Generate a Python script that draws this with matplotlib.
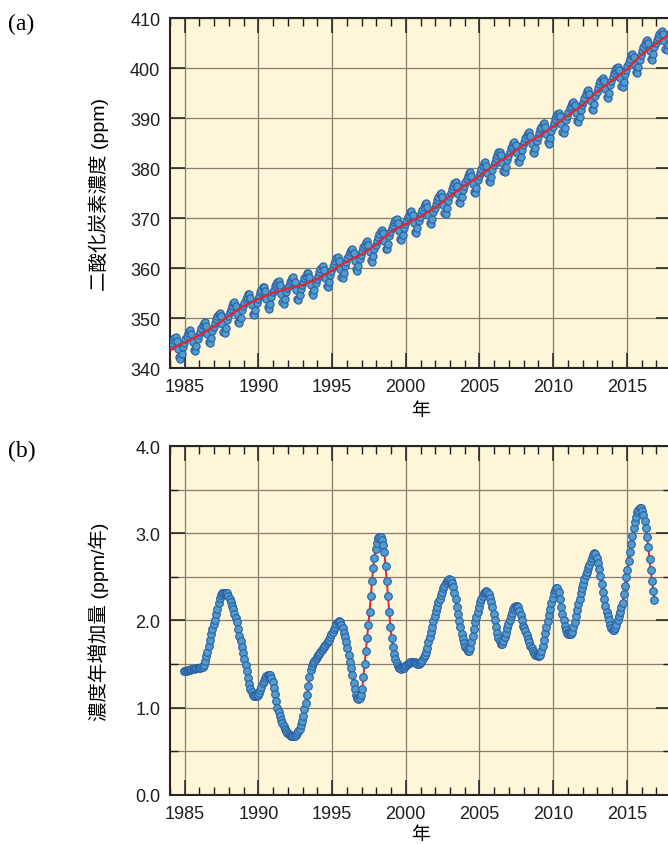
import numpy as np
import matplotlib
matplotlib.use("Agg")
import matplotlib.pyplot as plt
from matplotlib.ticker import MultipleLocator, FormatStrFormatter

plt.rcParams['font.family'] = ['Liberation Sans', 'Noto Sans CJK JP', 'DejaVu Sans']

# (a) monthly mean CO2 concentration (ppm), one row of 12 months per year
co2_first_year = 1984
co2_monthly = [
    [344.4, 345.1, 345.6, 346.1, 346.2, 345.4, 343.9, 342.2, 341.9, 342.9, 344.3, 345.1],
    [345.8, 346.5, 347.0, 347.5, 347.7, 346.9, 345.3, 343.6, 343.4, 344.4, 345.8, 346.6],
    [347.3, 348.0, 348.6, 349.1, 349.2, 348.5, 346.9, 345.3, 345.0, 346.0, 347.5, 348.3],
    [349.0, 349.8, 350.4, 350.9, 351.1, 350.4, 348.9, 347.3, 347.1, 348.1, 349.6, 350.5],
    [351.2, 351.9, 352.5, 353.1, 353.2, 352.5, 350.9, 349.3, 349.1, 350.1, 351.6, 352.4],
    [353.1, 353.8, 354.3, 354.8, 354.9, 354.1, 352.6, 350.9, 350.6, 351.6, 353.0, 353.8],
    [354.5, 355.2, 355.7, 356.2, 356.3, 355.5, 353.9, 352.2, 351.9, 352.9, 354.3, 355.2],
    [355.7, 356.4, 356.9, 357.3, 357.4, 356.6, 354.9, 353.2, 352.9, 353.8, 355.2, 356.0],
    [356.5, 357.2, 357.7, 358.1, 358.2, 357.3, 355.7, 353.9, 353.6, 354.6, 355.9, 356.7],
    [357.3, 358.0, 358.5, 359.0, 359.1, 358.3, 356.7, 355.0, 354.7, 355.7, 357.1, 357.9],
    [358.5, 359.2, 359.8, 360.3, 360.4, 359.7, 358.1, 356.5, 356.2, 357.2, 358.7, 359.5],
    [360.2, 360.9, 361.5, 362.0, 362.2, 361.4, 359.9, 358.2, 358.0, 359.0, 360.5, 361.3],
    [362.0, 362.7, 363.2, 363.7, 363.8, 363.0, 361.5, 359.8, 359.5, 360.5, 361.9, 362.7],
    [363.4, 364.2, 364.7, 365.3, 365.5, 364.7, 363.2, 361.6, 361.3, 362.4, 363.9, 364.7],
    [365.4, 366.2, 366.9, 367.5, 367.7, 367.0, 365.5, 363.9, 363.8, 364.9, 366.4, 367.3],
    [368.0, 368.7, 369.2, 369.7, 369.9, 369.1, 367.5, 365.8, 365.6, 366.6, 368.0, 368.8],
    [369.5, 370.2, 370.7, 371.2, 371.4, 370.6, 369.0, 367.3, 367.1, 368.1, 369.5, 370.3],
    [371.0, 371.7, 372.3, 372.8, 373.0, 372.2, 370.7, 369.0, 368.8, 369.8, 371.3, 372.1],
    [372.8, 373.6, 374.2, 374.8, 375.0, 374.3, 372.7, 371.1, 370.9, 372.0, 373.5, 374.4],
    [375.1, 375.9, 376.4, 377.0, 377.2, 376.5, 374.9, 373.3, 373.1, 374.2, 375.6, 376.5],
    [377.2, 377.9, 378.5, 379.1, 379.2, 378.5, 376.9, 375.3, 375.1, 376.1, 377.6, 378.4],
    [379.1, 379.9, 380.5, 381.0, 381.2, 380.5, 379.0, 377.4, 377.2, 378.2, 379.7, 380.6],
    [381.3, 382.0, 382.6, 383.2, 383.3, 382.6, 381.0, 379.4, 379.2, 380.2, 381.7, 382.5],
    [383.2, 384.0, 384.5, 385.1, 385.3, 384.6, 383.0, 381.4, 381.2, 382.3, 383.7, 384.6],
    [385.3, 386.0, 386.6, 387.1, 387.2, 386.5, 384.9, 383.3, 383.0, 384.0, 385.5, 386.3],
    [387.0, 387.8, 388.3, 388.9, 389.1, 388.3, 386.8, 385.2, 384.9, 386.0, 387.5, 388.3],
    [389.0, 389.8, 390.4, 390.9, 391.1, 390.4, 388.9, 387.3, 387.1, 388.1, 389.6, 390.5],
    [391.2, 392.0, 392.5, 393.1, 393.3, 392.6, 391.0, 389.4, 389.2, 390.3, 391.7, 392.6],
    [393.3, 394.1, 394.8, 395.4, 395.6, 394.9, 393.5, 391.9, 391.7, 392.8, 394.4, 395.3],
    [396.0, 396.8, 397.4, 397.9, 398.1, 397.4, 395.9, 394.3, 394.1, 395.1, 396.6, 397.5],
    [398.2, 399.0, 399.6, 400.1, 400.3, 399.6, 398.1, 396.5, 396.3, 397.3, 398.8, 399.7],
    [400.4, 401.3, 401.9, 402.6, 402.8, 402.2, 400.7, 399.2, 399.0, 400.2, 401.7, 402.7],
    [403.4, 404.2, 404.8, 405.4, 405.6, 405.0, 403.5, 401.9, 401.7, 402.8, 404.3, 405.0],
    [405.6, 406.3, 406.8, 407.3, 407.5, 406.9, 405.4, 403.8, 403.6, 404.7, 406.1, 407.0],
]

# deseasonalised long-term trend (ppm) on 1 January of each year
trend_years = list(range(1984, 2019))
trend_ppm = [343.7, 345.1, 346.6, 348.3, 350.5, 352.4, 353.8, 355.1, 355.9, 356.6,
             357.8, 359.5, 361.3, 362.7, 364.7, 367.3, 368.8, 370.3, 372.1, 374.4,
             376.5, 378.4, 380.6, 382.5, 384.6, 386.3, 388.3, 390.5, 392.6, 395.3,
             397.5, 399.7, 402.7, 404.9, 407.0]

# (b) annual growth rate of the trend (ppm/yr), monthly, first value is December 1984
growth_first_year = 1984
growth_first_month = 12
growth_monthly = [
    [1.42],
    [1.42, 1.42, 1.43, 1.43, 1.43, 1.44, 1.44, 1.44, 1.45, 1.45, 1.45, 1.46],
    [1.46, 1.47, 1.47, 1.49, 1.54, 1.59, 1.64, 1.71, 1.78, 1.84, 1.90, 1.96],
    [2.01, 2.07, 2.13, 2.20, 2.26, 2.29, 2.31, 2.32, 2.32, 2.32, 2.31, 2.28],
    [2.25, 2.21, 2.17, 2.13, 2.08, 2.03, 1.98, 1.90, 1.82, 1.76, 1.70, 1.63],
    [1.56, 1.49, 1.42, 1.34, 1.27, 1.22, 1.18, 1.15, 1.13, 1.13, 1.13, 1.15],
    [1.17, 1.20, 1.24, 1.28, 1.31, 1.34, 1.36, 1.38, 1.38, 1.37, 1.34, 1.29],
    [1.23, 1.16, 1.08, 1.00, 0.95, 0.90, 0.86, 0.82, 0.79, 0.76, 0.73, 0.71],
    [0.70, 0.69, 0.68, 0.68, 0.68, 0.68, 0.69, 0.71, 0.73, 0.76, 0.80, 0.85],
    [0.91, 0.98, 1.06, 1.15, 1.25, 1.35, 1.43, 1.48, 1.51, 1.54, 1.56, 1.58],
    [1.60, 1.62, 1.64, 1.66, 1.68, 1.70, 1.72, 1.74, 1.76, 1.78, 1.81, 1.84],
    [1.87, 1.90, 1.93, 1.96, 1.98, 1.99, 1.98, 1.95, 1.91, 1.86, 1.81, 1.75],
    [1.68, 1.61, 1.53, 1.46, 1.37, 1.28, 1.21, 1.15, 1.11, 1.10, 1.11, 1.15],
    [1.22, 1.35, 1.50, 1.65, 1.80, 1.95, 2.10, 2.28, 2.45, 2.60, 2.72, 2.82],
    [2.89, 2.94, 2.96, 2.96, 2.92, 2.86, 2.78, 2.63, 2.45, 2.28, 2.10, 1.93],
    [1.80, 1.70, 1.62, 1.56, 1.51, 1.48, 1.46, 1.45, 1.44, 1.45, 1.46, 1.48],
    [1.49, 1.50, 1.51, 1.52, 1.53, 1.53, 1.53, 1.52, 1.51, 1.50, 1.50, 1.51],
    [1.53, 1.55, 1.58, 1.61, 1.64, 1.69, 1.75, 1.81, 1.87, 1.93, 1.99, 2.05],
    [2.11, 2.16, 2.21, 2.25, 2.29, 2.33, 2.37, 2.40, 2.43, 2.45, 2.46, 2.47],
    [2.46, 2.43, 2.38, 2.32, 2.25, 2.16, 2.07, 1.99, 1.92, 1.85, 1.79, 1.74],
    [1.70, 1.67, 1.65, 1.65, 1.69, 1.75, 1.82, 1.90, 1.98, 2.04, 2.10, 2.16],
    [2.21, 2.25, 2.28, 2.31, 2.33, 2.34, 2.33, 2.30, 2.26, 2.21, 2.15, 2.08],
    [2.00, 1.93, 1.86, 1.80, 1.76, 1.73, 1.73, 1.76, 1.81, 1.86, 1.91, 1.96],
    [2.00, 2.05, 2.09, 2.13, 2.15, 2.17, 2.17, 2.15, 2.11, 2.06, 2.00, 1.94],
    [1.91, 1.88, 1.83, 1.79, 1.75, 1.71, 1.68, 1.65, 1.63, 1.61, 1.60, 1.59],
    [1.59, 1.61, 1.65, 1.71, 1.78, 1.86, 1.92, 1.99, 2.06, 2.13, 2.20, 2.26],
    [2.31, 2.35, 2.37, 2.37, 2.33, 2.25, 2.15, 2.07, 2.00, 1.94, 1.89, 1.86],
    [1.84, 1.84, 1.84, 1.87, 1.92, 1.98, 2.05, 2.12, 2.19, 2.25, 2.31, 2.37],
    [2.42, 2.47, 2.52, 2.56, 2.60, 2.64, 2.68, 2.72, 2.75, 2.77, 2.76, 2.72],
    [2.66, 2.59, 2.51, 2.42, 2.33, 2.25, 2.17, 2.10, 2.05, 2.00, 1.95, 1.91],
    [1.89, 1.89, 1.91, 1.95, 2.00, 2.05, 2.10, 2.15, 2.20, 2.30, 2.40, 2.50],
    [2.58, 2.68, 2.78, 2.88, 2.97, 3.06, 3.13, 3.19, 3.24, 3.27, 3.29, 3.29],
    [3.26, 3.21, 3.14, 3.06, 2.96, 2.84, 2.71, 2.58, 2.45, 2.34, 2.24],
]

x_ticks = [1985, 1990, 1995, 2000, 2005, 2010, 2015]
panel_labels = ['(a)', '(b)']
xlabel_text = '年'
ylabel_a = '二酸化炭素濃度 (ppm)'
ylabel_b = '濃度年増加量 (ppm/年)'

# decimal-year positions of the monthly values (mid-month)
co2_x, co2_y = [], []
for i, row in enumerate(co2_monthly):
    for m, v in enumerate(row):
        co2_x.append(co2_first_year + i + (m + 0.5) / 12)
        co2_y.append(v)

gr_x, gr_y = [], []
for i, row in enumerate(growth_monthly):
    m0 = growth_first_month - 1 if i == 0 else 0
    for k, v in enumerate(row):
        gr_x.append(growth_first_year + i + (m0 + k + 0.5) / 12)
        gr_y.append(v)

BG = '#fdf6d8'
GRID = '#857e6c'
DOT_FACE = '#519bcd'
DOT_EDGE = '#2b5fa3'
RED = '#ea2329'

fig = plt.figure(figsize=(6.68, 8.45), dpi=100)
ax_a = fig.add_axes([0.2545, 0.5633, 0.750, 0.4142])
ax_b = fig.add_axes([0.2545, 0.0580, 0.750, 0.4130])


def style_axes(ax):
    ax.set_facecolor(BG)
    ax.set_xlim(1984, 2018)
    ax.set_xticks(x_ticks)
    ax.xaxis.set_minor_locator(MultipleLocator(1))
    ax.tick_params(which='both', direction='in', top=True, right=True,
                   labelsize=13, pad=7, colors='#1e1e1e')
    ax.tick_params(which='major', length=11, width=1.1)
    ax.tick_params(which='minor', length=6, width=1.0)
    for s in ax.spines.values():
        s.set_linewidth(1.5)
        s.set_color('#262626')
    ax.xaxis.grid(True, which='major', color=GRID, lw=0.9)
    ax.set_axisbelow(True)
    ax.set_xlabel(xlabel_text, fontsize=13.5)


# (a) concentration
style_axes(ax_a)
ax_a.set_ylim(340, 410)
ax_a.yaxis.set_major_locator(MultipleLocator(10))
ax_a.yaxis.grid(True, which='major', color=GRID, lw=0.9)
ax_a.plot(co2_x, co2_y, 'o', ms=5.2, mfc=DOT_FACE, mec=DOT_EDGE, mew=0.8, zorder=3)
ax_a.plot(trend_years, trend_ppm, '-', color=RED, lw=1.5, zorder=4)
ax_a.set_ylabel(ylabel_a, fontsize=14)
ax_a.yaxis.set_label_coords(-0.122, 0.5)
ax_a.xaxis.set_label_coords(0.5, -0.12)
ax_a.xaxis.label.set_va('center')

# (b) growth rate
style_axes(ax_b)
ax_b.set_ylim(0, 4)
ax_b.yaxis.set_major_locator(MultipleLocator(1.0))
ax_b.yaxis.set_minor_locator(MultipleLocator(0.5))
ax_b.yaxis.set_major_formatter(FormatStrFormatter('%.1f'))
ax_b.yaxis.grid(True, which='both', color=GRID, lw=0.9)
ax_b.plot(gr_x, gr_y, '-', color=RED, lw=1.4, zorder=3)
ax_b.plot(gr_x, gr_y, 'o', ms=5.5, mfc=DOT_FACE, mec=DOT_EDGE, mew=0.8, zorder=4)
ax_b.set_ylabel(ylabel_b, fontsize=14)
ax_b.yaxis.set_label_coords(-0.122, 0.5)
ax_b.xaxis.set_label_coords(0.5, -0.112)
ax_b.xaxis.label.set_va('center')

fig.text(0.012, 1 - 24 / 845, panel_labels[0], family='Liberation Serif',
         fontsize=17, va='center', ha='left')
fig.text(0.012, 1 - 451 / 845, panel_labels[1], family='Liberation Serif',
         fontsize=17, va='center', ha='left')

fig.savefig('out.png', dpi=100, facecolor='white')
